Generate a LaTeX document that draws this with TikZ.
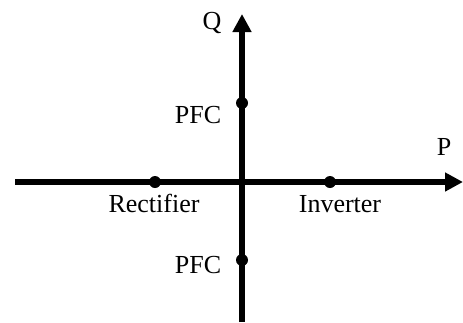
\documentclass[tikz,border=0pt]{standalone}
\usepackage{fontspec}
\setmainfont{Liberation Serif}
\usepackage{tikz}
\usetikzlibrary{arrows.meta,positioning}
\tikzset{
  axis/.style={line width=6pt,-{Triangle[length=18pt,width=18pt]}},
  opdot/.style={circle,fill=black,inner sep=0pt,minimum size=12pt},
  lbl/.style={anchor=base,inner sep=0pt,font=\fontsize{26}{30}\selectfont}
}
\begin{document}
\begin{tikzpicture}[x=1pt,y=-1pt]
\useasboundingbox (0,0) rectangle (463,322);
% axes
\coordinate (pstart) at (15,182);
\coordinate (pend) at (463,182);
\coordinate (qstart) at (242,322);
\coordinate (qend) at (242,14);
\draw[axis] (pstart) -- (pend);
\draw[axis] (qstart) -- (qend);
\node[lbl] (plabel) at (444,155) {P};
\node[lbl] (qlabel) at (212,29) {Q};
% operating points
\node[opdot] (rect) at (155,182) {};
\node[opdot] (inv) at (330,182) {};
\node[opdot] (pfcup) at (242,103) {};
\node[opdot] (pfcdn) at (242,260) {};
\node[lbl] (rectlabel) at (154,212) {Rectifier};
\node[lbl] (invlabel) at (340,212) {Inverter};
\node[lbl] (pfcuplabel) at (198,123) {PFC};
\node[lbl] (pfcdnlabel) at (198,273) {PFC};
\end{tikzpicture}
\end{document}
